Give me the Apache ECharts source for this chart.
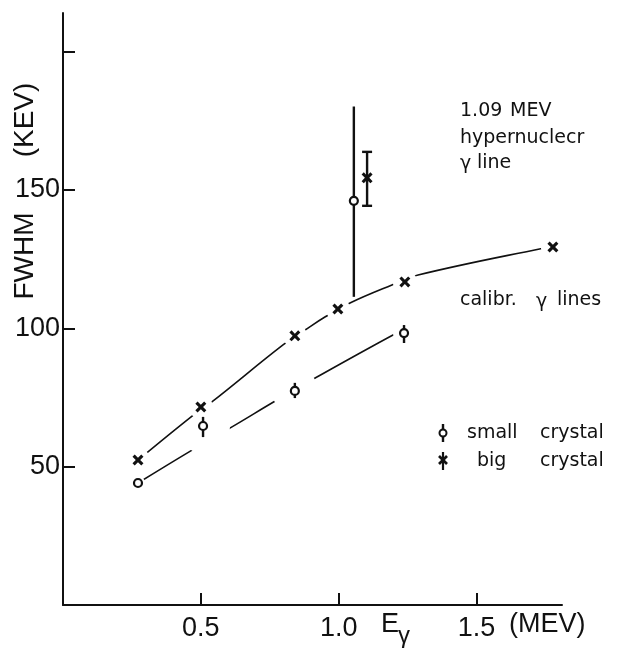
<!DOCTYPE html>
<html>
<head>
<meta charset="utf-8">
<script src="https://cdn.jsdelivr.net/npm/echarts@6/dist/echarts.min.js"></script>
<style>
html,body{margin:0;padding:0;background:#fff;}
#chart{width:622px;height:655px;}
</style>
</head>
<body>
<div id="chart"></div>
<script>
// ---- data ----
const xTicks = [0.5, 1.0, 1.5];
const yTicks = [50, 100, 150, 200];
const yLabels = [50, 100, 150];

// calibration lines, big crystal (x markers)
const bigE = [0.272, 0.500, 0.841, 0.997, 1.240, 1.777];
const bigF = [52.4, 71.6, 97.3, 107.0, 116.8, 129.4];
// calibration lines, small crystal (circle markers)
const smallE = [0.272, 0.508, 0.841, 1.237];
const smallF = [44.1, 64.7, 77.4, 98.3];
const smallLow = [null, 60.7, 74.8, 94.7];
const smallHigh = [null, 68.0, 80.3, 101.2];

// 1.09 MeV hypernuclear gamma line
const hyperSmallE = [1.055];
const hyperSmallF = [146.1];
const hyperSmallLow = [111.4];
const hyperSmallHigh = [180.2];
const hyperBigE = [1.103];
const hyperBigF = [154.4];
const hyperBigLow = [144.3];
const hyperBigHigh = [163.8];

// hand-drawn fit curves
const bigFitE = [0.272, 0.482, 0.540, 0.798, 0.878, 0.950, 1.041, 1.193, 1.288, 1.737, 1.777];
const bigFitF = [52.4, 69.4, 73.4, 94.0, 99.4, 104.1, 109.2, 115.7, 119.3, 128.9, 129.4];
const smallFitE = [0.272, 0.468, 0.613, 0.776, 0.921, 1.197, 1.237];
const smallFitF = [44.1, 56.0, 64.4, 74.1, 82.4, 97.6, 99.4];

// ---- build ----
const zip = (a, b) => a.map((v, i) => [v, b[i]]);
const zipErr = (e, lo, hi) => e.map((v, i) => [v, lo[i], hi[i]]).filter(d => d[1] != null);

const INK = '#111';
const TICK_FONT = 'Liberation Sans';
const TXT_FONT = 'DejaVu Sans';
const xPath = 'path://M0,2 L2,0 L5,3 L8,0 L10,2 L7,5 L10,8 L8,10 L5,7 L2,10 L0,8 L3,5 Z';

function errRender(caps) {
  return function (params, api) {
    const x = api.value(0);
    const p1 = api.coord([x, api.value(1)]);
    const p2 = api.coord([x, api.value(2)]);
    const st = { stroke: INK, lineWidth: 2.4 };
    const children = [{ type: 'line', shape: { x1: p1[0], y1: p1[1], x2: p2[0], y2: p2[1] }, style: st }];
    if (caps) {
      children.push({ type: 'line', shape: { x1: p1[0] - 5, y1: p1[1], x2: p1[0] + 5, y2: p1[1] }, style: st });
      children.push({ type: 'line', shape: { x1: p2[0] - 5, y1: p2[1], x2: p2[0] + 5, y2: p2[1] }, style: st });
    }
    return { type: 'group', children };
  };
}

const chart = echarts.init(document.getElementById('chart'), null, { renderer: 'canvas' });
const smallHaloSizes = [14, 54, 46, 22];

function txt(x, y, text, size, font, extra) {
  return Object.assign({ type: 'text', x, y,
    style: { text, font: size + 'px ' + font, fill: INK, textAlign: 'left', textVerticalAlign: 'middle' } }, extra || {});
}
function seg(x1, y1, x2, y2, w) {
  return { type: 'line', shape: { x1, y1, x2, y2 }, style: { stroke: INK, lineWidth: w } };
}

chart.setOption({
  animation: false,
  backgroundColor: '#fff',
  grid: { left: 63, right: 60, top: 13, bottom: 50 },
  xAxis: {
    type: 'value', min: 0, max: 1.81,
    axisLine: { show: true, lineStyle: { color: INK, width: 2 } },
    axisTick: { show: true, inside: true, length: 12, lineStyle: { color: INK, width: 2 }, customValues: xTicks },
    axisLabel: { customValues: xTicks, margin: 10, color: INK, fontSize: 27, fontFamily: TICK_FONT, formatter: v => v.toFixed(1) },
    splitLine: { show: false }
  },
  yAxis: {
    type: 'value', min: 0, max: 214,
    axisLine: { show: true, lineStyle: { color: INK, width: 2 } },
    axisTick: { show: true, inside: true, length: 12, lineStyle: { color: INK, width: 2 }, customValues: yTicks },
    axisLabel: { customValues: yLabels, margin: 3, color: INK, fontSize: 27, fontFamily: TICK_FONT },
    splitLine: { show: false }
  },
  series: [
    { type: 'line', name: 'small fit', z: 2, data: zip(smallFitE, smallFitF), smooth: 0.4, showSymbol: false, silent: true,
      lineStyle: { color: INK, width: 1.6, opacity: 1 } },
    { type: 'scatter', name: 'small halo', z: 3, data: zip(smallE, smallF), silent: true, symbol: 'circle',
      symbolSize: (v, p) => smallHaloSizes[p.dataIndex], itemStyle: { color: '#fff', opacity: 1 } },
    { type: 'line', name: 'big fit', z: 4, data: zip(bigFitE, bigFitF), smooth: 0.4, showSymbol: false, silent: true,
      lineStyle: { color: INK, width: 1.6, opacity: 1 } },
    { type: 'scatter', name: 'big halo', z: 5, data: zip(bigE, bigF), silent: true, symbol: 'circle', symbolSize: 24,
      itemStyle: { color: '#fff', opacity: 1 } },
    { type: 'custom', name: 'small err', z: 6, silent: true, renderItem: errRender(false),
      data: zipErr(smallE, smallLow, smallHigh).concat(zipErr(hyperSmallE, hyperSmallLow, hyperSmallHigh)) },
    { type: 'custom', name: 'big err', z: 6, silent: true, renderItem: errRender(true),
      data: zipErr(hyperBigE, hyperBigLow, hyperBigHigh) },
    { type: 'scatter', name: 'small crystal', z: 7, silent: true, symbol: 'circle', symbolSize: 8,
      data: zip(smallE, smallF).concat(zip(hyperSmallE, hyperSmallF)),
      itemStyle: { color: '#fff', borderColor: INK, borderWidth: 2.2, opacity: 1 } },
    { type: 'scatter', name: 'big crystal', z: 7, silent: true, symbol: xPath, symbolSize: 11,
      data: zip(bigE, bigF).concat(zip(hyperBigE, hyperBigF)),
      itemStyle: { color: INK, opacity: 1 } }
  ],
  graphic: [
    { type: 'text', x: 25, y: 256, rotation: Math.PI / 2,
      style: { text: 'FWHM', font: '28px ' + TICK_FONT, fill: INK, textAlign: 'center', textVerticalAlign: 'middle' } },
    { type: 'text', x: 25, y: 120, rotation: Math.PI / 2,
      style: { text: '(KEV)', font: '28px ' + TICK_FONT, fill: INK, textAlign: 'center', textVerticalAlign: 'middle' } },
    txt(381, 625, 'E', 27, TICK_FONT),
    txt(398, 636, 'γ', 24, TICK_FONT),
    txt(509, 625, '(MEV)', 27, TICK_FONT),
    txt(460, 111, '1.09', 19, TXT_FONT),
    txt(510, 111, 'MEV', 19, TXT_FONT),
    txt(460, 138, 'hypernuclecr', 19, TXT_FONT),
    txt(460, 164, 'γ', 19, TXT_FONT),
    txt(477, 163, 'line', 19, TXT_FONT),
    txt(460, 300, 'calibr.', 19, TXT_FONT),
    txt(536, 302, 'γ', 19, TXT_FONT),
    txt(557, 300, 'lines', 19, TXT_FONT),
    // legend
    seg(443, 424, 443, 442, 2.4),
    { type: 'circle', shape: { cx: 443, cy: 433, r: 3.5 }, style: { fill: '#fff', stroke: INK, lineWidth: 2 } },
    txt(467, 433, 'small', 19, TXT_FONT),
    txt(540, 433, 'crystal', 19, TXT_FONT),
    seg(443, 452, 443, 470, 2.2),
    seg(439, 456, 447, 464, 2.6),
    seg(447, 456, 439, 464, 2.6),
    txt(477, 461, 'big', 19, TXT_FONT),
    txt(540, 461, 'crystal', 19, TXT_FONT)
  ]
});
</script>
</body>
</html>
